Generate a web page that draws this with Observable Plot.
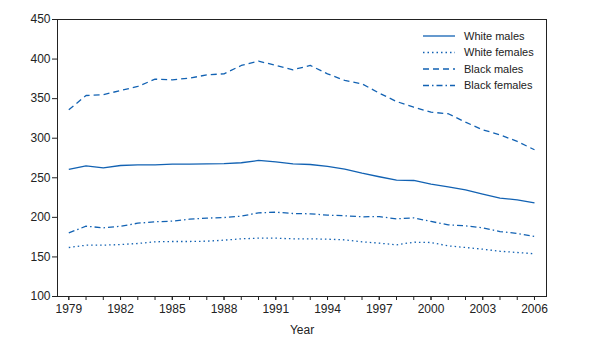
<!DOCTYPE html>
<html>
<head>
<meta charset="utf-8">
<script src="https://cdn.jsdelivr.net/npm/d3@7"></script>
<script src="https://cdn.jsdelivr.net/npm/@observablehq/plot@0.6"></script>
<style>
  html, body { margin: 0; padding: 0; background: #fff; }
  #chart { position: relative; width: 589px; height: 346px; font-family: "Liberation Sans", Arial, sans-serif; }
  #legend { position: absolute; left: 423px; top: 29px; }
</style>
</head>
<body>
<div id="chart"></div>
<script>
const years = d3.range(1979, 2007);
const whiteMales = [260.5,265.1,262.6,265.5,266.4,266.4,267.2,267.2,267.6,268.0,269.0,271.9,270.2,267.6,266.8,264.3,260.9,255.8,251.3,247.0,246.6,241.9,238.6,234.8,229.3,224.2,222.2,218.4];
const whiteFemales = [161.9,164.8,164.8,165.7,167.0,169.1,169.5,169.5,169.9,171.2,172.9,173.7,173.7,172.9,172.9,172.4,171.6,169.1,167.4,165.3,168.6,168.2,164.0,161.9,159.8,157.2,155.6,154.0];
const blackMales = [335.9,354.0,355.0,360.3,365.4,374.6,373.8,375.9,380.0,381.4,391.9,397.4,392.0,386.5,392.0,381.4,373.0,368.7,357.0,346.4,339.2,332.9,330.9,320.3,310.6,304.3,295.9,285.4];
const blackFemales = [180.5,188.8,186.8,188.8,192.6,194.4,195.2,197.7,199.0,199.8,201.5,205.7,206.5,204.9,204.5,202.8,202.0,200.7,201.0,198.1,199.4,194.8,190.6,189.3,186.8,182.1,179.6,175.8];
const seriesNames = ["White males", "White females", "Black males", "Black females"];
const seriesDash = ["none", "1.5,3", "6,4", "6,3,1.5,3"];
const labelYears = d3.range(1979, 2007, 3);
const yTicks = d3.range(100, 451, 50);

const color = "#1262b3";
const seriesValues = [whiteMales, whiteFemales, blackMales, blackFemales];
const rows = [];
seriesNames.forEach((name, i) => {
  years.forEach((yr, j) => rows.push({series: name, year: yr, value: seriesValues[i][j]}));
});

const chart = Plot.plot({
  width: 589,
  height: 346,
  marginLeft: 57,
  marginRight: 43,
  marginTop: 19,
  marginBottom: 50,
  style: {fontFamily: "Liberation Sans, Arial, sans-serif", fontSize: "12px", color: "#222"},
  x: {domain: [1978.345, 2006.696]},
  y: {domain: [100, 450]},
  marks: [
    Plot.axisX({ticks: years, tickFormat: () => "", tickSize: 4, label: null}),
    Plot.axisX({ticks: labelYears, tickFormat: "d", tickSize: 4, tickPadding: 4, label: "Year", labelAnchor: "center", labelArrow: "none", labelOffset: 37, fontSize: 12}),
    Plot.axisY({ticks: yTicks, tickSize: 5, tickPadding: 2, label: null, fontSize: 12}),
    ...seriesNames.map((name, i) => Plot.line(rows.filter(d => d.series === name), {
      x: "year", y: "value", stroke: color, strokeWidth: 1.3,
      strokeDasharray: seriesDash[i], strokeLinecap: "butt"
    })),
    Plot.frame({stroke: "#222", strokeWidth: 1})
  ]
});
document.getElementById("chart").appendChild(chart);

// legend
const lg = d3.select("#chart").append("svg").attr("id", "legend").attr("width", 140).attr("height", 70);
seriesNames.forEach((name, i) => {
  const g = lg.append("g").attr("transform", `translate(0, ${7 + i * 16.5})`);
  g.append("line").attr("x1", 0).attr("x2", 32).attr("y1", 0).attr("y2", 0)
    .attr("stroke", color).attr("stroke-width", 1.3)
    .attr("stroke-dasharray", seriesDash[i]);
  g.append("text").attr("x", 41).attr("y", 0).attr("dy", "0.35em")
    .attr("font-family", "Liberation Sans, Arial, sans-serif").attr("font-size", 11)
    .attr("fill", "#222").text(name);
});
</script>
</body>
</html>
